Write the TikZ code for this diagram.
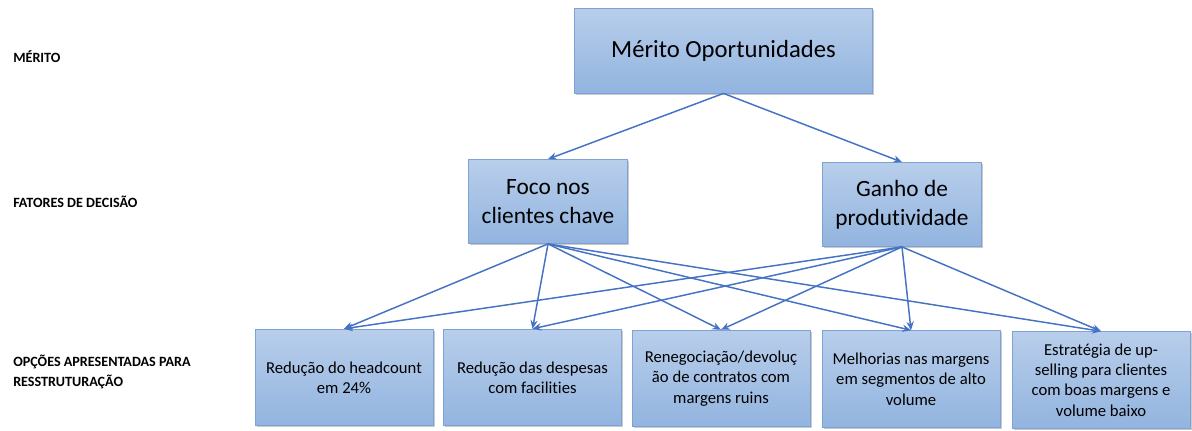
\documentclass[tikz,border=0pt]{standalone}
\usepackage{fontspec}
\setmainfont[Ligatures=NoCommon,RawFeature={-liga;-clig;-dlig}]{Carlito}
\usetikzlibrary{arrows.meta,shadows}
\definecolor{boxtop}{HTML}{B8CEEB}
\definecolor{boxbot}{HTML}{92B4DF}
\definecolor{boxline}{HTML}{7DA2D6}
\definecolor{arrowc}{HTML}{4472C4}
\tikzset{
  box/.style={draw=boxline, line width=0.6pt, top color=boxtop, bottom color=boxbot,
    align=center, inner sep=2pt,
    drop shadow={shadow xshift=1.2pt, shadow yshift=-1.2pt, opacity=0.35, fill=black!60}},
  topbox/.style={box, minimum width=224pt, minimum height=63.75pt,
    font=\fontsize{18.5}{22}\selectfont},
  midbox/.style={box, minimum width=119pt, minimum height=63pt,
    font=\fontsize{17.5}{22}\selectfont},
  optbox/.style={box, minimum width=133.5pt, minimum height=72.5pt,
    font=\fontsize{12.5}{15.2}\selectfont},
  lbl/.style={anchor=base west, inner sep=0pt, align=left,
    font=\bfseries\fontsize{10.6}{15}\selectfont},
  conn/.style={draw=arrowc, line width=1.1pt, -{Stealth[length=6.5pt,width=5.5pt]}}
}
\begin{document}
\begin{tikzpicture}[x=0.75pt,y=-0.75pt]
\useasboundingbox (0,0) rectangle (1192,430);
\node[lbl] (l1) at (13,62) {MÉRITO};
\node[lbl] (l2) at (13,207) {FATORES DE DECISÃO};
\node[lbl] (l3) at (13,386) {OPÇÕES APRESENTADAS PARA\\RESSTRUTURAÇÃO};

\node[topbox] (m) at (723.5,50.5) {Mérito Oportunidades};
\node[midbox] (f) at (548,201.5) {Foco nos\\clientes chave};
\node[midbox] (g) at (902,204.5) {Ganho de\\produtividade};

\node[optbox] (o1) at (344,377.5) {Redução do headcount\\em 24\%};
\node[optbox] (o2) at (532.5,377.5) {Redução das despesas\\com facilities};
\node[optbox] (o3) at (721,378.5) {Renegociação/devoluç\\ão de contratos com\\margens ruins};
\node[optbox] (o4) at (911,379) {Melhorias nas margens\\em segmentos de alto\\volume};
\node[optbox] (o5) at (1101,380) {Estratégia de up-\\selling para clientes\\com boas margens e\\volume baixo};

\draw[conn] (m.south) -- (f.north);
\draw[conn] (m.south) -- (g.north);
\foreach \t in {o1,o2,o3,o4,o5} {
  \draw[conn] (f.south) -- (\t.north);
  \draw[conn] (g.south) -- (\t.north);
}
\end{tikzpicture}
\end{document}
